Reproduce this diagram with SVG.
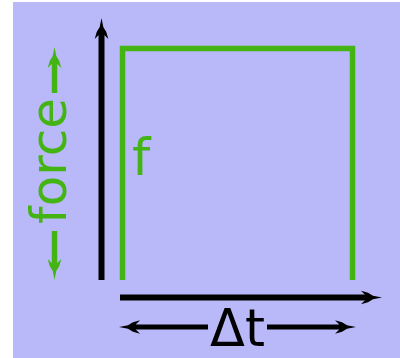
<svg xmlns="http://www.w3.org/2000/svg" width="400" height="358" viewBox="0 0 400 358">
  <style>
    .ax { fill: none; stroke: #000; stroke-width: 6; }
    .dt { fill: none; stroke: #000; stroke-width: 5; }
    .gr { fill: none; stroke: #44b414; stroke-width: 5.5; }
    .lbl { font-family: "DejaVu Sans", sans-serif; }
  </style>
  <defs>
    <marker id="hb" markerUnits="userSpaceOnUse" orient="auto-start-reverse" refX="0" refY="0" overflow="visible" markerWidth="1" markerHeight="1">
      <path d="M17,0 L8,-1.8 L3,-4.8 L-4,-6.8 L0,-2.8 L0,2.8 L-4,6.8 L3,4.8 L8,1.8 Z" fill="#000"/>
    </marker>
    <marker id="hg" markerUnits="userSpaceOnUse" orient="auto-start-reverse" refX="0" refY="0" overflow="visible" markerWidth="1" markerHeight="1">
      <path d="M17,0 L8,-1.8 L3,-4.8 L-4,-6.8 L0,-2.8 L0,2.8 L-4,6.8 L3,4.8 L8,1.8 Z" fill="#44b414"/>
    </marker>
  </defs>
  <rect id="background" x="13" y="2" width="387" height="356" fill="#b9b9fa"/>
  <g id="connectors">
    <path id="y-axis" class="ax" d="M101.5,280 V35" marker-end="url(#hb)"/>
    <path id="x-axis" class="ax" d="M120,297.5 H365" marker-end="url(#hb)"/>
    <path id="dt-left" class="dt" d="M208,327 H136" marker-end="url(#hb)"/>
    <path id="dt-right" class="dt" d="M267,327 H339" marker-end="url(#hb)"/>
    <path id="force-up" class="gr" d="M54.5,93 V64" marker-end="url(#hg)"/>
    <path id="force-down" class="gr" d="M54.5,231 V263" marker-end="url(#hg)"/>
  </g>
  <g id="pulse">
    <path class="gr" d="M122.5,280 V48.5 H352.5 V280"/>
  </g>
  <g id="label-f">
    <text class="lbl" x="132" y="175" font-size="52" fill="#44b414">f</text>
  </g>
  <g id="label-force">
    <text class="lbl" transform="translate(66,161) rotate(-90)" text-anchor="middle" font-size="50" fill="#44b414">force</text>
  </g>
  <g id="label-dt">
    <text class="lbl" x="237.5" y="346" text-anchor="middle" font-size="51" fill="#000">Δt</text>
  </g>
</svg>
